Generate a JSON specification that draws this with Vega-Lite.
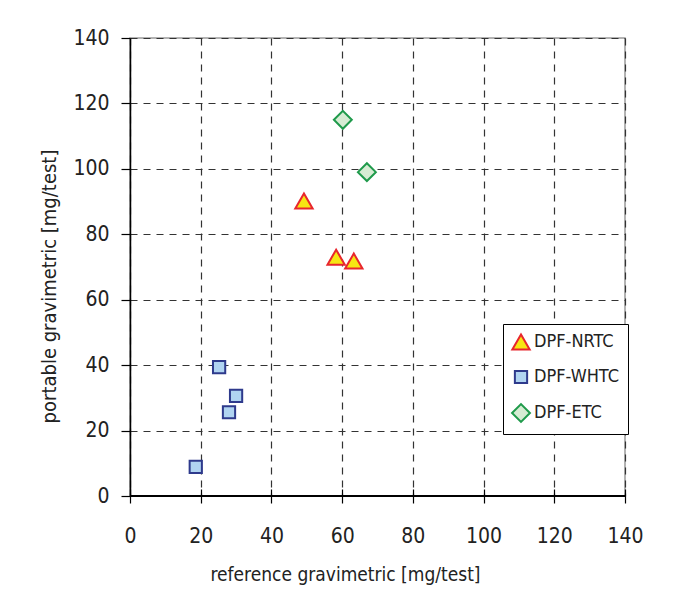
{
  "$schema": "https://vega.github.io/schema/vega-lite/v6.json",
  "width": 495,
  "height": 458,
  "autosize": {"type": "none"},
  "padding": {"left": 130, "top": 38, "right": 48, "bottom": 111},
  "background": "white",
  "config": {
    "view": {"stroke": "#9a9a9a", "strokeWidth": 1.5},
    "font": "DejaVu Sans Condensed, sans-serif"
  },
  "data": {
    "values": [
      {"series": "DPF-NRTC", "reference": 49.2, "portable": 90.2},
      {"series": "DPF-NRTC", "reference": 58.3, "portable": 73.0},
      {"series": "DPF-NRTC", "reference": 63.3, "portable": 71.8},
      {"series": "DPF-WHTC", "reference": 18.6, "portable": 8.9},
      {"series": "DPF-WHTC", "reference": 25.2, "portable": 39.4},
      {"series": "DPF-WHTC", "reference": 30.0, "portable": 30.6},
      {"series": "DPF-WHTC", "reference": 28.0, "portable": 25.6},
      {"series": "DPF-ETC", "reference": 60.2, "portable": 115.0},
      {"series": "DPF-ETC", "reference": 67.0, "portable": 99.0}
    ]
  },
  "layer": [
    {
      "mark": {"type": "rule", "color": "black", "strokeWidth": 1.5},
      "encoding": {"y": {"datum": 0, "type": "quantitative", "scale": {"domain": [0, 140]}}}
    },
    {
      "mark": {"type": "point", "filled": true, "strokeWidth": 2, "opacity": 1},
      "encoding": {
        "x": {
          "field": "reference", "type": "quantitative",
          "scale": {"domain": [0, 140], "nice": false},
          "axis": {
            "values": [0, 20, 40, 60, 80, 100, 120, 140],
            "title": "reference gravimetric [mg/test]",
            "offset": -7,
            "domain": false,
            "tickSize": 14,
            "tickColor": "black",
            "tickWidth": 1.2,
            "labelFlush": false,
            "labelPadding": 22,
            "labelFontSize": 21,
            "labelColor": "#222",
            "titleFontSize": 19,
            "titleFontWeight": "normal",
            "titleColor": "#222",
            "titlePadding": 19,
            "titleX": 215,
            "grid": true,
            "gridColor": "#333",
            "gridDash": [7, 6],
            "gridWidth": 1.2
          }
        },
        "y": {
          "field": "portable", "type": "quantitative",
          "scale": {"domain": [0, 140], "nice": false},
          "axis": {
            "values": [0, 20, 40, 60, 80, 100, 120, 140],
            "title": "portable gravimetric [mg/test]",
            "domainColor": "black",
            "domainWidth": 1.5,
            "tickSize": 9,
            "tickColor": "black",
            "tickWidth": 1.2,
            "labelFlush": false,
            "labelPadding": 12,
            "labelFontSize": 21,
            "labelColor": "#222",
            "titleFontSize": 20,
            "titleFontWeight": "normal",
            "titleColor": "#222",
            "titlePadding": 13,
            "titleY": 248,
            "grid": true,
            "gridColor": "#333",
            "gridDash": [7, 6],
            "gridWidth": 1.2
          }
        },
        "shape": {
          "field": "series", "type": "nominal",
          "scale": {"domain": ["DPF-NRTC", "DPF-WHTC", "DPF-ETC"], "range": ["triangle-up", "square", "diamond"]},
          "legend": {
            "title": null,
            "orient": "none",
            "legendX": 373,
            "legendY": 286,
            "fillColor": "white",
            "strokeColor": "black",
            "padding": 8,
            "labelFontSize": 18,
            "labelColor": "#222",
            "labelOffset": 3,
            "rowPadding": 12,
            "symbolStrokeWidth": 2,
            "cornerRadius": 0
          }
        },
        "fill": {
          "field": "series", "type": "nominal",
          "scale": {"domain": ["DPF-NRTC", "DPF-WHTC", "DPF-ETC"], "range": ["#f7e613", "#b0d4f1", "#d6ecd3"]}
        },
        "stroke": {
          "field": "series", "type": "nominal",
          "scale": {"domain": ["DPF-NRTC", "DPF-WHTC", "DPF-ETC"], "range": ["#e8262d", "#2e3a8c", "#1f9a4b"]}
        },
        "size": {
          "field": "series", "type": "nominal",
          "scale": {"type": "ordinal", "domain": ["DPF-NRTC", "DPF-WHTC", "DPF-ETC"], "range": [300, 150, 320]}
        }
      }
    }
  ]
}
